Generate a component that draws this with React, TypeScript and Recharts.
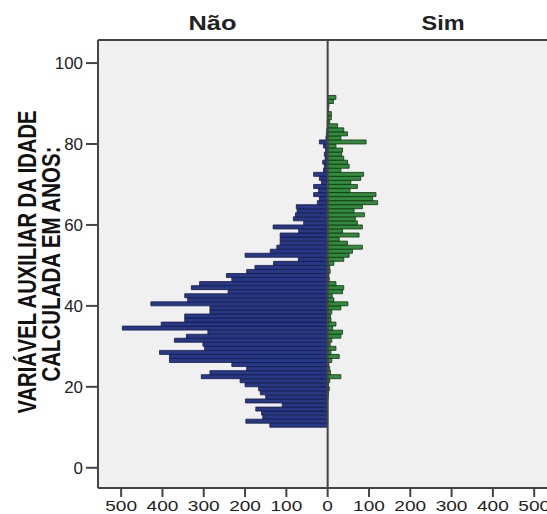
import React from "react";
import { BarChart, Bar, XAxis, YAxis, CartesianGrid, ReferenceLine } from "recharts";

// Age bins (years)
const ages = [
  10, 11, 12, 13, 14, 15, 16, 17, 18, 19,
  20, 21, 22, 23, 24, 25, 26, 27, 28, 29,
  30, 31, 32, 33, 34, 35, 36, 37, 38, 39,
  40, 41, 42, 43, 44, 45, 46, 47, 48, 49,
  50, 51, 52, 53, 54, 55, 56, 57, 58, 59,
  60, 61, 62, 63, 64, 65, 66, 67, 68, 69,
  70, 71, 72, 73, 74, 75, 76, 77, 78, 79,
  80, 81, 82, 83, 84, 85, 86, 87, 88, 89,
  90, 91,
];

// Frequencies, group "Não"
const naoCounts = [
  140, 198, 157, 160, 174, 110, 199, 150, 163, 167,
  200, 212, 306, 285, 196, 232, 383, 383, 407, 298,
  302, 371, 342, 290, 497, 403, 346, 346, 285, 285,
  428, 339, 346, 241, 330, 310, 232, 245, 196, 176,
  131, 71, 200, 139, 123, 115, 115, 115, 70, 132,
  58, 83, 78, 74, 76, 25, 20, 34, 22, 34,
  15, 20, 34, 10, 8, 12, 6, 8, 5, 10,
  20, 4, 3, 2, 1, 1, 0, 0, 0, 0,
  0, 0,
];

// Frequencies, group "Sim"
const simCounts = [
  0, 0, 0, 0, 0, 0, 0, 1, 2, 4,
  2, 5, 32, 7, 5, 3, 10, 28, 8, 20,
  6, 10, 32, 36, 12, 20, 8, 7, 10, 32,
  49, 15, 11, 36, 39, 20, 4, 3, 6, 5,
  15, 39, 52, 60, 84, 48, 28, 76, 36, 84,
  72, 67, 89, 64, 84, 121, 109, 117, 54, 72,
  56, 80, 87, 32, 52, 48, 39, 34, 36, 20,
  93, 32, 48, 39, 24, 5, 9, 9, 2, 3,
  14, 20,
];

const xTicks = [-500, -400, -300, -200, -100, 0, 100, 200, 300, 400, 500];
const yTicks = [0, 20, 40, 60, 80, 100];
const panelTitles = ["Não", "Sim"];
const axisTitleLines = ["VARIÁVEL AUXILIAR DA IDADE", "CALCULADA EM ANOS:"];

const data = ages.map((a, i) => ({
  age: a,
  mid: a + 0.5,
  nao: -naoCounts[i],
  sim: simCounts[i],
}));

const FONT = "'Liberation Sans', Arial, sans-serif";

const XTick = (props: any) => {
  const { x, y, payload } = props;
  const label = String(Math.abs(payload.value));
  return (
    <text
      x={x}
      y={y}
      dy="0.71em"
      textAnchor="middle"
      fontFamily={FONT}
      fontSize={15}
      fill="#222"
      textLength={10.6 * label.length}
      lengthAdjust="spacingAndGlyphs"
    >
      {label}
    </text>
  );
};

const YTick = (props: any) => {
  const { x, y, payload } = props;
  const label = String(payload.value);
  return (
    <text
      x={x}
      y={y}
      dy="0.36em"
      textAnchor="end"
      fontFamily={FONT}
      fontSize={17}
      fill="#222"
      textLength={9.4 * label.length}
      lengthAdjust="spacingAndGlyphs"
    >
      {label}
    </text>
  );
};

export default function App() {
  return (
    <div style={{ position: "absolute", left: 0, top: 0, width: 547, height: 514, background: "#fff" }}>
      <BarChart
        width={547}
        height={514}
        data={data}
        layout="vertical"
        stackOffset="sign"
        margin={{ top: 40, right: 0, bottom: 0, left: 58 }}
      >
        <CartesianGrid horizontal={false} vertical={false} fill="#f0f0f0" />
        <XAxis
          type="number"
          domain={[-556, 531]}
          ticks={xTicks}
          allowDataOverflow
          height={26}
          tickSize={9}
          tickMargin={3}
          tick={<XTick />}
          axisLine={{ stroke: "#444", strokeWidth: 2 }}
          tickLine={{ stroke: "#444", strokeWidth: 2 }}
        />
        <YAxis
          type="number"
          dataKey="mid"
          domain={[-5, 105.7]}
          ticks={yTicks}
          reversed
          allowDataOverflow
          width={40}
          tickSize={12}
          tickMargin={3}
          tick={<YTick />}
          axisLine={{ stroke: "#444", strokeWidth: 2 }}
          tickLine={{ stroke: "#444", strokeWidth: 2 }}
        />
        <ReferenceLine y={105.7} stroke="#444" strokeWidth={2} />
        <Bar
          dataKey="nao"
          stackId="s"
          barSize={4}
          fill="#26388a"
          stroke="#1a1c3c"
          strokeWidth={0.8}
          isAnimationActive={false}
        />
        <Bar
          dataKey="sim"
          stackId="s"
          barSize={4}
          fill="#2f8c3a"
          stroke="#1b2e1b"
          strokeWidth={0.8}
          isAnimationActive={false}
        />
        <ReferenceLine x={0} stroke="#444" strokeWidth={2} />
      </BarChart>
      <svg
        width={547}
        height={514}
        style={{ position: "absolute", left: 0, top: 0, pointerEvents: "none" }}
      >
        <text x={212.5} y={30} textAnchor="middle" fontFamily={FONT} fontWeight="bold" fontSize={20} fill="#222" textLength={48} lengthAdjust="spacingAndGlyphs">
          {panelTitles[0]}
        </text>
        <text x={443} y={30} textAnchor="middle" fontFamily={FONT} fontWeight="bold" fontSize={20} fill="#222" textLength={43} lengthAdjust="spacingAndGlyphs">
          {panelTitles[1]}
        </text>
        <text
          transform="translate(36,262) rotate(-90)"
          textAnchor="middle"
          fontFamily={FONT}
          fontWeight="bold"
          fontSize={26}
          fill="#111"
          textLength={303}
          lengthAdjust="spacingAndGlyphs"
        >
          {axisTitleLines[0]}
        </text>
        <text
          transform="translate(60,264) rotate(-90)"
          textAnchor="middle"
          fontFamily={FONT}
          fontWeight="bold"
          fontSize={26}
          fill="#111"
          textLength={235}
          lengthAdjust="spacingAndGlyphs"
        >
          {axisTitleLines[1]}
        </text>
      </svg>
    </div>
  );
}
